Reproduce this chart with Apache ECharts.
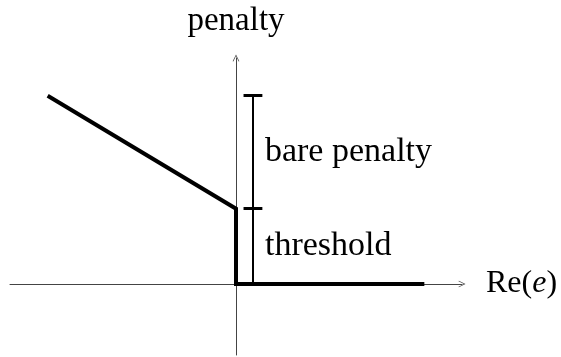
<!DOCTYPE html>
<html>
<head>
<meta charset="utf-8">
<script src="https://cdn.jsdelivr.net/npm/echarts@6/dist/echarts.min.js"></script>
<style>
  html, body { margin: 0; padding: 0; background: #ffffff; }
  #chart { width: 561px; height: 357px; }
</style>
</head>
<body>
<div id="chart"></div>
<script>
// penalty curve: slope on the left, jump at 0, flat on the right
const penaltyX = [-5, 0, 0, 5];
const penaltyY = [5, 2, 0, 0];

// bracket beside the y axis, levels 0 -> threshold -> top
const bracketX = 0.45;
const bracketHalf = 0.25;      // half width of the little end ticks
const bracketLevels = [0, 2, 5];
const bracketLabels = ['threshold', 'bare penalty'];

const serif = 'Liberation Serif';
const chart = echarts.init(document.getElementById('chart'), null, { renderer: 'canvas' });

// open arrow head, drawn pointing up (echarts turns it for the x axis)
const arrowHead = 'path://M0,10 L5,0 L10,10 L9,10.5 L5,2.4 L1,10.5 Z';

function axisCommon() {
  return {
    type: 'value',
    axisTick: { show: false },
    axisLabel: { show: false },
    splitLine: { show: false },
    axisLine: {
      onZero: true,
      symbol: ['none', arrowHead],
      symbolSize: [9, 7],
      lineStyle: { color: '#444', width: 1 }
    }
  };
}

let penaltyData = [];
penaltyX.forEach((x, i) => {
  penaltyData.push([x, penaltyY[i]]);
});

// bracket: the upright and the two end ticks
let bracketUpright = [{ coords: [[bracketX, bracketLevels[0]], [bracketX, bracketLevels[2]]] }];
let bracketTicks = [];
bracketLevels.slice(1).forEach((lv) => {
  bracketTicks.push({ coords: [[bracketX - bracketHalf, lv], [bracketX + bracketHalf, lv]] });
});

// labels sit half way between the levels
let labelData = [];
bracketLabels.forEach((txt, i) => {
  labelData.push({
    value: [bracketX, (bracketLevels[i] + bracketLevels[i + 1]) / 2],
    name: txt
  });
});

const xAxis = axisCommon();
xAxis.min = -6;
xAxis.max = 6;
xAxis.name = 'Re({it|e})';
xAxis.nameLocation = 'end';
xAxis.nameGap = 24;
xAxis.nameTextStyle = {
  fontFamily: serif, fontSize: 32, color: '#000',
  rich: { it: { fontFamily: serif, fontSize: 32, fontStyle: 'italic', color: '#000' } }
};

const yAxis = axisCommon();
yAxis.min = -1.885;
yAxis.max = 6;
yAxis.name = 'penalty';
yAxis.nameLocation = 'end';
yAxis.nameGap = 20;
yAxis.nameTextStyle = { fontFamily: serif, fontSize: 33, color: '#000', align: 'center' };

const option = {
  backgroundColor: '#ffffff',
  animation: false,
  grid: { left: 10, right: 99, top: 58, bottom: 2, containLabel: false },
  xAxis: xAxis,
  yAxis: yAxis,
  series: [
    {
      name: 'penalty',
      type: 'line',
      data: penaltyData,
      symbol: 'none',
      lineStyle: { color: '#000', width: 4, join: 'miter', cap: 'butt' },
      z: 3
    },
    {
      name: 'bracket',
      type: 'lines',
      coordinateSystem: 'cartesian2d',
      data: bracketUpright,
      lineStyle: { color: '#000', width: 2, opacity: 1, curveness: 0 },
      z: 2
    },
    {
      name: 'bracketTicks',
      type: 'lines',
      coordinateSystem: 'cartesian2d',
      data: bracketTicks,
      lineStyle: { color: '#000', width: 3, opacity: 1, curveness: 0 },
      z: 2
    },
    {
      name: 'labels',
      type: 'scatter',
      data: labelData,
      symbolSize: 0,
      itemStyle: { opacity: 1 },
      label: {
        show: true,
        position: 'right',
        distance: 12,
        formatter: '{b}',
        fontFamily: serif,
        fontSize: 34,
        color: '#000'
      }
    }
  ]
};

chart.setOption(option);
</script>
</body>
</html>
